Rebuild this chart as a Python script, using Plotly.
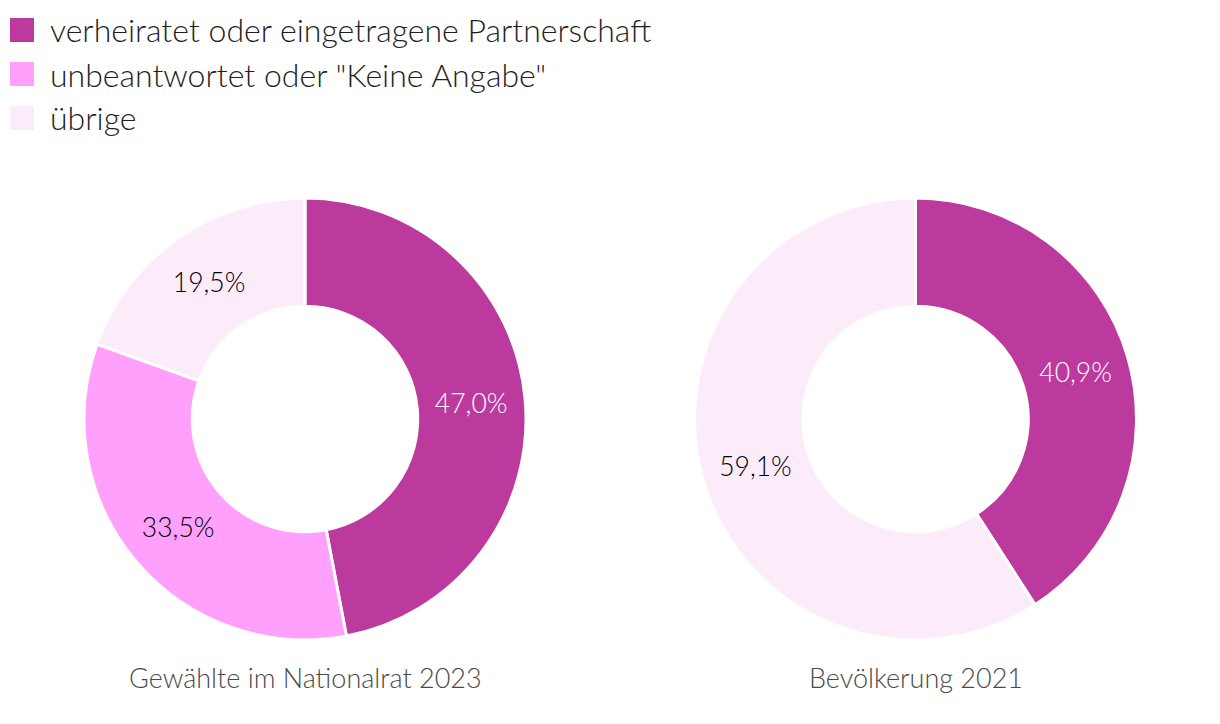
import plotly.graph_objects as go

categories = ["verheiratet oder eingetragene Partnerschaft", "unbeantwortet oder \"Keine Angabe\"", "übrige"]
colors = ["#bc3a9e", "#ffa1fc", "#fcecfa"]
nr_values = [47.0, 33.5, 19.5]
bev_categories = ["verheiratet oder eingetragene Partnerschaft", "übrige"]
bev_values = [40.9, 59.1]
bev_colors = ["#bc3a9e", "#fcecfa"]
titles = ["Gewählte im Nationalrat 2023", "Bevölkerung 2021"]

W, H = 1220, 724
FONT = "Lato"
WT = 300

fig = go.Figure()

def dom(x0, x1, y0, y1):
    return dict(x=[x0 / W, x1 / W], y=[1 - y1 / H, 1 - y0 / H])

def txtcolors(cols):
    return ["#ffffff" if c == "#bc3a9e" else "#000000" for c in cols]

fig.add_trace(go.Pie(
    labels=categories, values=nr_values, sort=False, direction="clockwise", rotation=0,
    hole=0.51, domain=dom(84, 526, 198, 640),
    marker=dict(colors=colors, line=dict(color="#ffffff", width=3)),
    texttemplate="%{percent:.1%}", textposition="inside", insidetextorientation="horizontal",
    textfont=dict(family=FONT, size=26.5, weight=WT, color=txtcolors(colors)),
    showlegend=False, hoverinfo="label+percent",
))
fig.add_trace(go.Pie(
    labels=bev_categories, values=bev_values, sort=False, direction="clockwise", rotation=0,
    hole=0.51, domain=dom(694, 1137, 198, 640),
    marker=dict(colors=bev_colors, line=dict(color="#ffffff", width=3)),
    texttemplate="%{percent:.1%}", textposition="inside", insidetextorientation="horizontal",
    textfont=dict(family=FONT, size=26.5, weight=WT, color=txtcolors(bev_colors)),
    showlegend=False, hoverinfo="label+percent",
))

shapes = []
annotations = []
for i, (cat, col) in enumerate(zip(categories, colors)):
    yc = 30 + 44 * i
    shapes.append(dict(type="rect", xref="paper", yref="paper",
                       x0=10 / W, x1=34 / W, y0=1 - (yc + 12) / H, y1=1 - (yc - 12) / H,
                       fillcolor=col, line=dict(width=0)))
    annotations.append(dict(text=cat, xref="paper", yref="paper", x=48 / W, y=1 - yc / H,
                            xanchor="left", yanchor="middle", showarrow=False,
                            font=dict(family=FONT, size=32, weight=WT, color="#1e1e1e")))

for t, xc in zip(titles, [305, 916]):
    annotations.append(dict(text=t, xref="paper", yref="paper", x=xc / W, y=1 - 677 / H,
                            xanchor="center", yanchor="middle", showarrow=False,
                            font=dict(family=FONT, size=27, weight=WT, color="#4a4a4a")))

fig.update_layout(
    width=W, height=H, margin=dict(l=0, r=0, t=0, b=0),
    paper_bgcolor="#ffffff", plot_bgcolor="#ffffff",
    separators=",.", shapes=shapes, annotations=annotations,
    font=dict(family=FONT),
)

fig.write_html("out.html", config={"displayModeBar": False},
               post_script="document.body.style.margin='0';document.body.style.overflow='hidden';")
